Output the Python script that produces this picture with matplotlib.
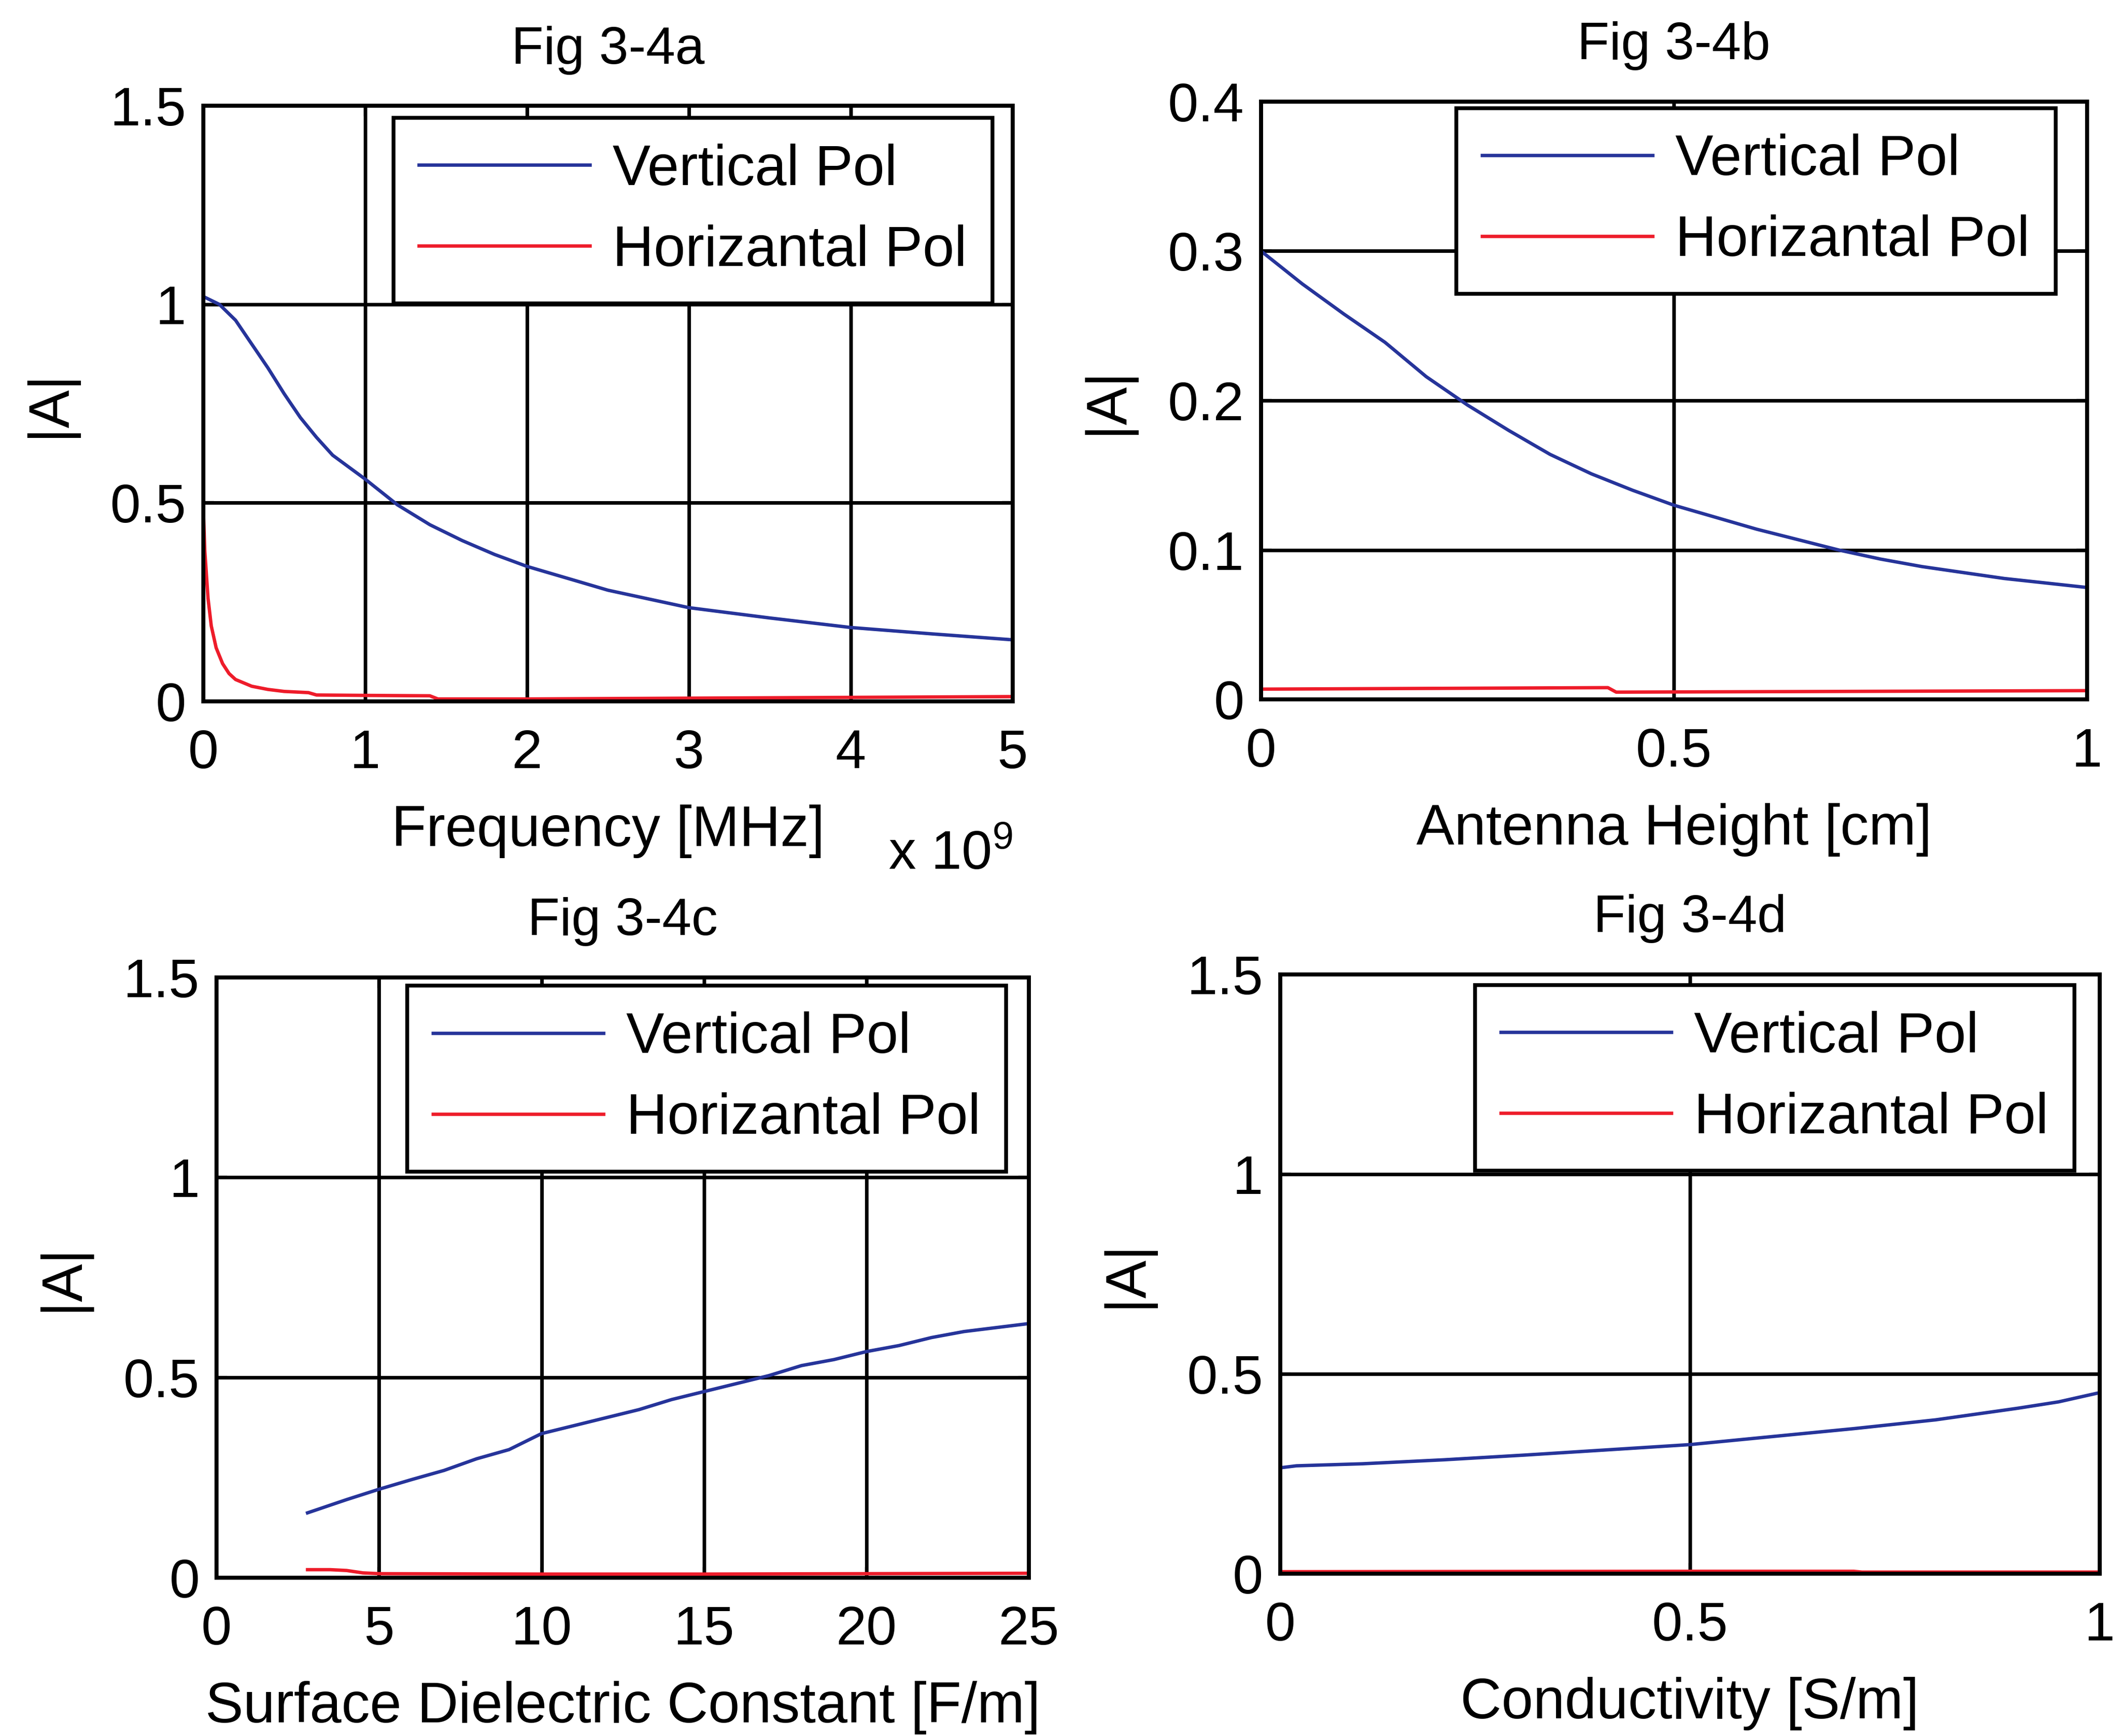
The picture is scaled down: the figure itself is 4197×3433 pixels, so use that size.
import matplotlib
matplotlib.use("Agg")
import matplotlib.pyplot as plt
from matplotlib.ticker import FuncFormatter

plt.rcParams['font.family'] = ['Liberation Sans', 'DejaVu Sans']
plt.rcParams['mathtext.fontset'] = 'custom'
plt.rcParams['mathtext.rm'] = 'Liberation Sans'
plt.rcParams['mathtext.it'] = 'Liberation Sans'

# ---------------- data ----------------
# Fig 3-4a : frequency (units of 1e9 Hz)
freq_v = [0, 0.1, 0.2, 0.3, 0.4, 0.5, 0.6, 0.7, 0.8, 0.9, 1.0, 1.2, 1.4, 1.6, 1.8,
          2.0, 2.25, 2.5, 2.75, 3.0, 3.5, 4.0, 4.5, 5.0]
a_vert = [1.02, 1.0, 0.96, 0.9, 0.84, 0.775, 0.715, 0.665, 0.62, 0.59, 0.56, 0.495,
          0.445, 0.405, 0.37, 0.34, 0.31, 0.28, 0.258, 0.236, 0.21, 0.186, 0.17, 0.155]
freq_h = [0, 0.01, 0.03, 0.05, 0.08, 0.12, 0.16, 0.2, 0.3, 0.4, 0.5, 0.65, 0.7,
          1.0, 1.4, 1.45, 2.0, 3.0, 4.0, 5.0]
a_horz = [0.5, 0.38, 0.26, 0.19, 0.135, 0.095, 0.07, 0.055, 0.038, 0.03, 0.025,
          0.022, 0.016, 0.015, 0.014, 0.006, 0.006, 0.008, 0.01, 0.012]

# Fig 3-4b : antenna height [cm]
height_v = [0, 0.05, 0.1, 0.15, 0.2, 0.25, 0.3, 0.35, 0.4, 0.45, 0.5, 0.55, 0.6,
            0.65, 0.7, 0.75, 0.8, 0.85, 0.9, 0.95, 1.0]
b_vert = [0.300, 0.278, 0.258, 0.239, 0.216, 0.197, 0.180, 0.164, 0.151, 0.140,
          0.130, 0.122, 0.114, 0.107, 0.100, 0.094, 0.089, 0.085, 0.081, 0.078, 0.075]
height_h = [0, 0.42, 0.43, 1.0]
b_horz = [0.007, 0.008, 0.005, 0.006]

# Fig 3-4c : surface dielectric constant
diel_v = [2.8, 4, 5, 6, 7, 8, 9, 10, 11, 12, 13, 14, 15, 16, 17, 18, 19, 20, 21,
          22, 23, 24, 25]
c_vert = [0.162, 0.195, 0.221, 0.245, 0.268, 0.297, 0.32, 0.36, 0.38, 0.40, 0.42,
          0.445, 0.465, 0.485, 0.505, 0.53, 0.545, 0.565, 0.58, 0.60, 0.615, 0.625, 0.635]
diel_h = [2.8, 3.5, 4, 4.5, 5, 10, 15, 20, 25]
c_horz = [0.02, 0.02, 0.018, 0.012, 0.01, 0.009, 0.009, 0.01, 0.011]

# Fig 3-4d : conductivity [S/m]
cond_v = [0, 0.02, 0.1, 0.2, 0.3, 0.4, 0.5, 0.6, 0.7, 0.8, 0.9, 0.95, 1.0]
d_vert = [0.265, 0.27, 0.275, 0.285, 0.297, 0.31, 0.323, 0.343, 0.363, 0.385,
          0.414, 0.43, 0.453]
cond_h = [0, 0.5, 0.7, 0.71, 1.0]
d_horz = [0.005, 0.006, 0.006, 0.004, 0.004]

titles = ["Fig 3-4a", "Fig 3-4b", "Fig 3-4c", "Fig 3-4d"]
xlabels = ["Frequency [MHz]", "Antenna Height [cm]",
           "Surface Dielectric Constant [F/m]", "Conductivity [S/m]"]
xticks = [[0, 1, 2, 3, 4, 5], [0, 0.5, 1], [0, 5, 10, 15, 20, 25], [0, 0.5, 1]]
yticks = [[0, 0.5, 1, 1.5], [0, 0.1, 0.2, 0.3, 0.4], [0, 0.5, 1, 1.5], [0, 0.5, 1, 1.5]]
series = [(freq_v, a_vert, freq_h, a_horz), (height_v, b_vert, height_h, b_horz),
          (diel_v, c_vert, diel_h, c_horz), (cond_v, d_vert, cond_h, d_horz)]
legend_labels = ["Vertical Pol", "Horizantal Pol"]

# ---------------- figure ----------------
fig = plt.figure(figsize=(4197 / 300, 3433 / 300), dpi=300)
fig.patch.set_facecolor('white')

positions = [
    [0.0957, 0.596, 0.477 - 0.0957, 0.939 - 0.596],
    [0.594, 0.597, 0.983 - 0.594, 0.9415 - 0.597],
    [0.102, 0.0912, 0.4847 - 0.102, 0.437 - 0.0912],
    [0.603, 0.0935, 0.989 - 0.603, 0.4388 - 0.0935],
]
leg_anchor = [(0.975, 0.98), (0.962, 0.989), (0.972, 0.986), (0.969, 0.982)]

BLUE = '#26349a'
RED = '#ee1c2a'
FS = 26
fmt = FuncFormatter(lambda v, p: '%g' % v)

for i in range(4):
    ax = fig.add_axes(positions[i])
    xv, yv, xh, yh = series[i]
    ax.plot(xv, yv, color=BLUE, lw=1.6, label=legend_labels[0])
    ax.plot(xh, yh, color=RED, lw=1.6, label=legend_labels[1])
    ax.set_xlim(xticks[i][0], xticks[i][-1])
    ax.set_ylim(yticks[i][0], yticks[i][-1])
    ax.set_xticks(xticks[i])
    ax.set_yticks(yticks[i])
    ax.xaxis.set_major_formatter(fmt)
    ax.yaxis.set_major_formatter(fmt)
    ax.grid(True, color='black', lw=1.7, ls='-')
    for s in ax.spines.values():
        s.set_linewidth(1.9)
        s.set_color('black')
    ax.tick_params(direction='in', top=True, right=True, length=5, width=1.5,
                   labelsize=FS)
    ax.tick_params(axis='x', pad=13)
    ax.tick_params(axis='y', pad=8)
    ax.set_title(titles[i], fontsize=25, pad=20)
    ax.set_xlabel(xlabels[i], fontsize=27, labelpad=12)
    ax.set_ylabel('|A|', fontsize=27, labelpad=16)
    leg = ax.legend(loc='upper right', bbox_to_anchor=leg_anchor[i], borderaxespad=0,
                    fontsize=27, fancybox=False, framealpha=1, edgecolor='black',
                    handlelength=3.0, handletextpad=0.4, labelspacing=0.48,
                    borderpad=0.45)
    leg.get_frame().set_linewidth(1.8)

fig.text(0.4478, 0.5074, r'x 10$^{9}$', fontsize=26, ha='center', va='center')

fig.savefig('out.png', dpi=300, facecolor='white')
